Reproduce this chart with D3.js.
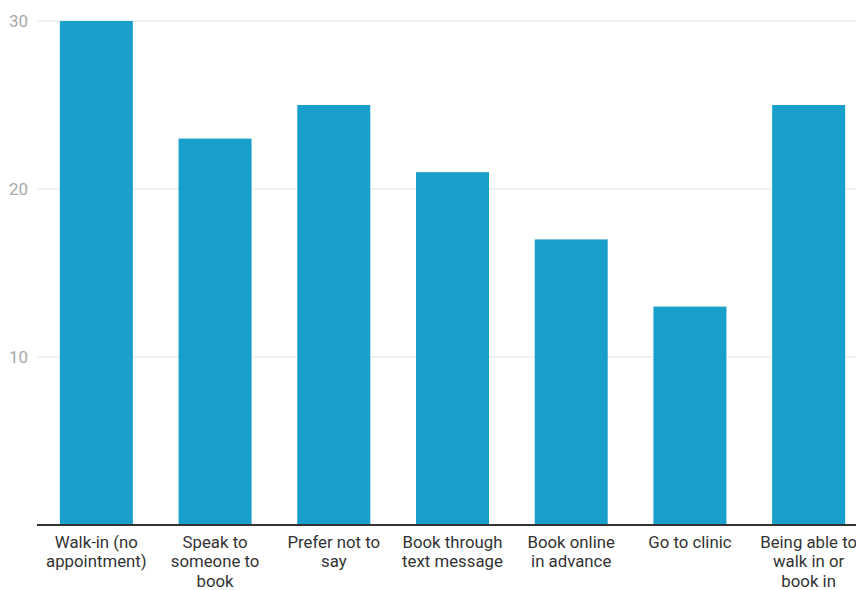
<!DOCTYPE html>
<html>
<head>
<meta charset="utf-8">
<script src="https://cdn.jsdelivr.net/npm/d3@7"></script>
<style>
  html, body { margin: 0; padding: 0; background: #fff; }
  svg { display: block; font-family: Roboto, "Noto Sans", sans-serif; }
</style>
</head>
<body>
<svg id="chart" width="856" height="590"></svg>
<script>
// Category labels (line breaks marked with \n) and their values
const categories = [
  "Walk-in (no\nappointment)",
  "Speak to\nsomeone to\nbook",
  "Prefer not to\nsay",
  "Book through\ntext message",
  "Book online\nin advance",
  "Go to clinic",
  "Being able to\nwalk in or\nbook in"
];
const values = [30, 23, 25, 21, 17, 13, 25];
const yTicks = [10, 20, 30];

const svg = d3.select("#chart");
const plotLeft = 37, plotRight = 868, plotTop = 21, plotBottom = 525;

const x = d3.scaleBand()
  .domain(categories)
  .range([plotLeft, plotRight])
  .paddingInner(0.385)
  .paddingOuter(0.1925);

const y = d3.scaleLinear()
  .domain([0, 30])
  .range([plotBottom, plotTop]);

// Horizontal gridlines
svg.append("g")
  .selectAll("line")
  .data(yTicks)
  .join("line")
  .attr("x1", plotLeft)
  .attr("x2", 856)
  .attr("y1", d => y(d))
  .attr("y2", d => y(d))
  .attr("stroke", "#e4e4e4")
  .attr("stroke-width", 1);

// Y tick labels
svg.append("g")
  .selectAll("text")
  .data(yTicks)
  .join("text")
  .attr("x", 28)
  .attr("y", d => y(d))
  .attr("dy", "0.35em")
  .attr("text-anchor", "end")
  .attr("fill", "#a8a8a8")
  .attr("font-size", 17)
  .text(d => d);

// Bars
svg.append("g")
  .selectAll("rect")
  .data(values)
  .join("rect")
  .attr("x", (d, i) => x(categories[i]))
  .attr("y", d => y(d))
  .attr("width", x.bandwidth())
  .attr("height", d => y(0) - y(d))
  .attr("fill", "#189fcb");

// Baseline
svg.append("line")
  .attr("x1", plotLeft)
  .attr("x2", 856)
  .attr("y1", y(0))
  .attr("y2", y(0))
  .attr("stroke", "#333")
  .attr("stroke-width", 2);

// Category labels, one tspan per line
const labels = svg.append("g")
  .selectAll("text")
  .data(categories)
  .join("text")
  .attr("x", d => x(d) + x.bandwidth() / 2)
  .attr("y", 548)
  .attr("text-anchor", "middle")
  .attr("fill", "#333")
  .attr("font-size", 16.8);

labels.each(function (d) {
  const t = d3.select(this);
  d.split("\n").forEach((line, i) => {
    t.append("tspan")
      .attr("x", x(d) + x.bandwidth() / 2)
      .attr("dy", i === 0 ? 0 : 19.3)
      .text(line);
  });
});
</script>
</body>
</html>
